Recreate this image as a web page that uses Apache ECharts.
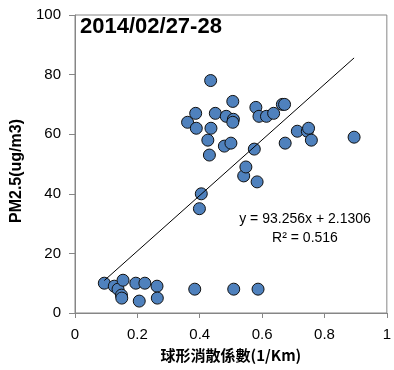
<!DOCTYPE html>
<html>
<head>
<meta charset="utf-8">
<script src="https://cdn.jsdelivr.net/npm/echarts@6/dist/echarts.min.js"></script>
<style>
  html, body { margin: 0; padding: 0; background: #fff; }
  #chart { width: 394px; height: 370px; }
</style>
</head>
<body>
<div id="chart"></div>
<script>
// extinction coefficient (1/Km) vs PM2.5 (ug/m3)
const extX = [0.094, 0.126, 0.138, 0.149, 0.15, 0.154, 0.195, 0.206, 0.224, 0.263, 0.264, 0.384, 0.509, 0.587,
  0.399, 0.405, 0.541, 0.548, 0.584, 0.575,
  0.431, 0.426, 0.479, 0.5, 0.674, 0.713, 0.745, 0.749, 0.758, 0.895,
  0.361, 0.389, 0.436, 0.387, 0.45, 0.485, 0.508, 0.506, 0.435, 0.506, 0.58, 0.59, 0.614, 0.637, 0.665, 0.672];
const pmY = [10, 9, 8, 6, 5, 11, 10, 4, 10, 9, 5, 8, 8, 8,
  35, 40, 46, 49, 44, 55,
  53, 58, 56, 57, 57, 61, 61, 62, 58, 59,
  64, 62, 62, 67, 67, 66, 65, 64, 78, 71, 69, 66, 66, 67, 70, 70];
const xTicks = [0, 0.2, 0.4, 0.6, 0.8, 1];
const yTicks = [0, 20, 40, 60, 80, 100];
// linear fit shown on the chart
const slope = 93.256;
const intercept = 2.1306;
const trendX = [0.094, 0.895];

const myChart = echarts.init(document.getElementById("chart"));
const fontColor = "#000";
const axisGray = "#868686";

const points = extX.map((x, i) => [x, pmY[i]]);
const trend = trendX.map((x) => [x, slope * x + intercept]);

const option = {
  animation: false,
  backgroundColor: "#fff",
  grid: {
    left: 75,
    right: 6,
    top: 15,
    bottom: 57,
    show: true,
    borderColor: axisGray,
    borderWidth: 1,
  },
  xAxis: {
    type: "value",
    min: xTicks[0],
    max: xTicks[xTicks.length - 1],
    interval: 0.2,
    name: "球形消散係數(1/Km)",
    nameLocation: "middle",
    nameGap: 35,
    nameTextStyle: {
      color: fontColor,
      fontSize: 15,
      fontWeight: "bold",
      fontFamily: "Noto Sans CJK TC",
    },
    axisLine: { show: true, lineStyle: { color: axisGray } },
    axisTick: { show: true, length: 5, lineStyle: { color: axisGray } },
    axisLabel: {
      color: fontColor,
      fontSize: 15,
      fontFamily: "Liberation Sans",
      margin: 14,
      formatter: (v) => String(Math.round(v * 10) / 10),
    },
    splitLine: { show: false },
  },
  yAxis: {
    type: "value",
    min: yTicks[0],
    max: yTicks[yTicks.length - 1],
    interval: 20,
    name: "PM2.5(ug/m3)",
    nameLocation: "middle",
    nameGap: 41,
    nameTextStyle: {
      color: fontColor,
      fontSize: 16,
      fontWeight: "bold",
      fontFamily: "Liberation Sans",
      padding: [0, 0, 0, -14],
    },
    axisLine: { show: true, lineStyle: { color: axisGray } },
    axisTick: { show: true, length: 6, lineStyle: { color: axisGray } },
    axisLabel: {
      color: fontColor,
      fontSize: 15,
      fontFamily: "Liberation Sans",
      margin: 14,
    },
    splitLine: { show: false },
  },
  series: [
    {
      type: "scatter",
      data: points,
      symbolSize: 12,
      itemStyle: {
        color: "#4F81BD",
        borderColor: "#111",
        borderWidth: 1,
        opacity: 1,
      },
      z: 2,
    },
    {
      type: "line",
      data: trend,
      showSymbol: false,
      lineStyle: { color: "#000", width: 1 },
      z: 3,
    },
  ],
  graphic: [
    {
      type: "text",
      left: 80,
      top: 16,
      style: {
        text: "2014/02/27-28",
        fill: "#000",
        font: "bold 22px 'Liberation Sans'",
      },
    },
    {
      type: "text",
      x: 305,
      y: 219,
      style: {
        text: "y = 93.256x + 2.1306",
        fill: "#000",
        font: "14px 'Liberation Sans'",
        align: "center",
        verticalAlign: "middle",
      },
    },
    {
      type: "text",
      x: 305,
      y: 238,
      style: {
        text: "R² = 0.516",
        fill: "#000",
        font: "14px 'Liberation Sans'",
        align: "center",
        verticalAlign: "middle",
      },
    },
  ],
};
myChart.setOption(option);
</script>
</body>
</html>
